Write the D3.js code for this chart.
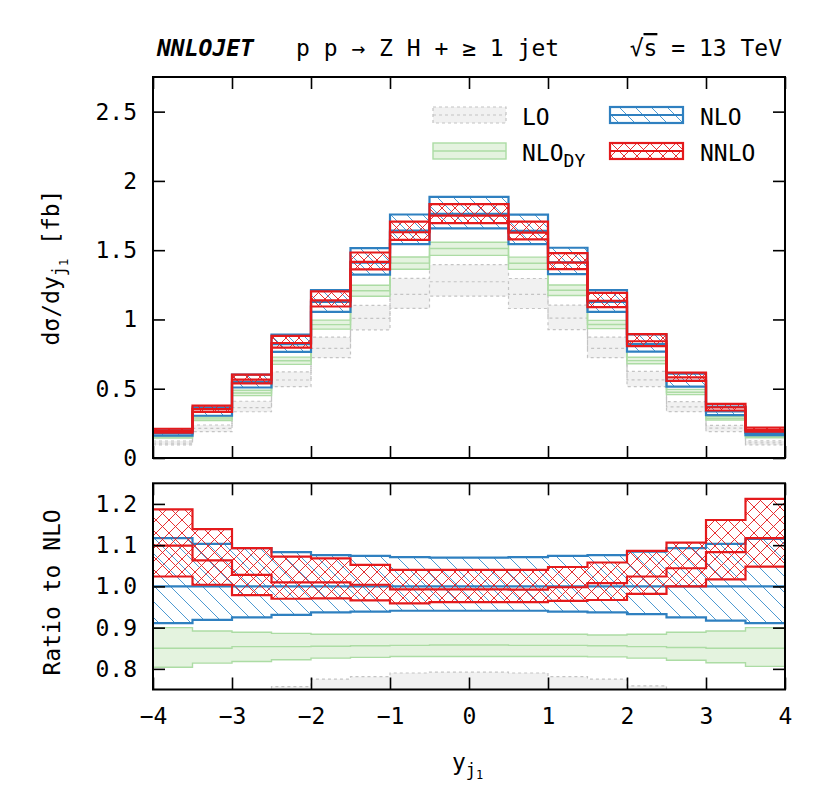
<!DOCTYPE html>
<html><head><meta charset="utf-8">
<script src="https://cdn.jsdelivr.net/npm/d3@7"></script>
<style>
body{margin:0;background:#fff}
text{font-family:"DejaVu Sans Mono",monospace;fill:#000}
</style>
</head><body>
<svg id="c" width="830" height="806"></svg>
<script>
// ---------------- data ----------------
const binEdges = [-4,-3.5,-3,-2.5,-2,-1.5,-1,-0.5,0,0.5,1,1.5,2,2.5,3,3.5,4];
// NLO central value per bin [fb]
const nloCentral = [0.178,0.332,0.550,0.822,1.126,1.410,1.641,1.762,1.762,1.640,1.413,1.126,0.823,0.557,0.337,0.181];
// ratios to NLO central
const loUp   = [0.690,0.717,0.745,0.757,0.775,0.781,0.790,0.792,0.792,0.790,0.781,0.775,0.759,0.730,0.700,0.680];
const loMid  = [0.607,0.645,0.662,0.685,0.703,0.715,0.720,0.722,0.722,0.720,0.715,0.703,0.685,0.662,0.640,0.600];
const loLow  = [0.530,0.572,0.607,0.626,0.643,0.656,0.658,0.663,0.663,0.658,0.656,0.643,0.626,0.600,0.565,0.520];
const dyUp   = [0.900,0.892,0.889,0.886,0.884,0.884,0.884,0.884,0.884,0.884,0.884,0.882,0.884,0.889,0.892,0.900];
const dyMid  = [0.850,0.850,0.854,0.854,0.855,0.856,0.857,0.858,0.858,0.857,0.857,0.856,0.854,0.852,0.850,0.850];
const dyLow  = [0.804,0.814,0.818,0.822,0.826,0.828,0.830,0.830,0.830,0.830,0.830,0.829,0.826,0.821,0.815,0.806];
const nloUp  = [1.117,1.103,1.093,1.083,1.076,1.074,1.071,1.070,1.070,1.071,1.074,1.076,1.084,1.093,1.103,1.115];
const nloMid = [1,1,1,1,1,1,1,1,1,1,1,1,1,1,1,1];
const nloLow = [0.911,0.919,0.925,0.931,0.937,0.939,0.941,0.941,0.941,0.941,0.939,0.937,0.933,0.925,0.917,0.911];
const nnloUp = [1.187,1.139,1.093,1.072,1.068,1.052,1.040,1.040,1.040,1.040,1.047,1.058,1.086,1.106,1.161,1.212];
const nnloMid= [1.099,1.063,1.028,1.010,1.010,1.004,0.993,0.993,0.993,0.992,0.998,1.008,1.024,1.044,1.083,1.117];
const nnloLow= [1.024,1.004,0.979,0.970,0.971,0.966,0.959,0.962,0.962,0.962,0.965,0.967,0.982,1.000,1.017,1.048];
const xTicks = [-4,-3,-2,-1,0,1,2,3,4];
const yTicksMain = [0,0.5,1,1.5,2,2.5];
const yTicksRatio = [0.8,0.9,1.0,1.1,1.2];
const legendLabels = ["LO","NLO","NLO","NNLO"];

// ---------------- layout ----------------
const svg = d3.select("#c");
const L = 153, R = 785;
const T1 = 77, B1 = 458, T2 = 483.3, B2 = 689.5;
const x = d3.scaleLinear().domain([-4,4]).range([L,R]);
const yMain = d3.scaleLinear().domain([0,2.75]).range([B1,T1]);
const yRat = d3.scaleLinear().domain([0.75,1.25]).range([B2,T2]);

const defs = svg.append("defs");
const pb = defs.append("pattern").attr("id","hBlue").attr("patternUnits","userSpaceOnUse")
  .attr("width",16).attr("height",16);
pb.append("path").attr("d","M0,0L16,16M-4,12L4,20M12,-4L20,4")
  .attr("stroke","#4d9ad2").attr("stroke-width",1).attr("fill","none");
const pr = defs.append("pattern").attr("id","hRed").attr("patternUnits","userSpaceOnUse")
  .attr("width",13).attr("height",13);
pr.append("path").attr("d","M0,0L13,13M13,0L0,13M-1,1L1,-1M12,14L14,12M-1,12L1,14M12,-1L14,1")
  .attr("stroke","#e41a1c").attr("stroke-width",0.9).attr("fill","none");
defs.append("clipPath").attr("id","cp1").append("rect").attr("x",L).attr("y",T1).attr("width",R-L).attr("height",B1-T1);
defs.append("clipPath").attr("id","cp2").append("rect").attr("x",L).attr("y",T2).attr("width",R-L).attr("height",B2-T2);

const series = [
  {up:loUp, mid:loMid, low:loLow, fill:"#f1f1f1", stroke:"#c4c4c4", dash:"3,3", w:1.2},
  {up:dyUp, mid:dyMid, low:dyLow, fill:"#e4f3df", stroke:"#acdca4", dash:null, w:1.4},
  {up:nloUp, mid:nloMid, low:nloLow, fill:"url(#hBlue)", stroke:"#2f80c0", dash:null, w:2.2},
  {up:nnloUp, mid:nnloMid, low:nnloLow, fill:"url(#hRed)", stroke:"#e41a1c", dash:null, w:2.2}
];

function pts(vals, scaleFac){
  return binEdges.map((e,i)=>[e, vals[Math.min(i,vals.length-1)]*scaleFac(Math.min(i,vals.length-1))]);
}

function drawPanel(g, y, absolute){
  const f = absolute ? (i=>nloCentral[i]) : (i=>1);
  const area = d3.area().x(d=>x(d[0])).y0(d=>y(d[1])).y1(d=>y(d[2])).curve(d3.curveStepAfter);
  const line = d3.line().x(d=>x(d[0])).y(d=>y(d[1])).curve(d3.curveStepAfter);
  series.forEach(s=>{
    const lo = pts(s.low,f), up = pts(s.up,f);
    const ad = lo.map((p,i)=>[p[0],p[1],up[i][1]]);
    g.append("path").attr("d",area(ad)).attr("fill",s.fill).attr("stroke","none");
    [s.up,s.mid,s.low].forEach(v=>{
      g.append("path").attr("d",line(pts(v,f))).attr("fill","none")
        .attr("stroke",s.stroke).attr("stroke-width",s.w)
        .attr("stroke-dasharray",s.dash).attr("stroke-linejoin","miter");
    });
  });
}

const g1 = svg.append("g").attr("clip-path","url(#cp1)");
drawPanel(g1, yMain, true);
const g2 = svg.append("g").attr("clip-path","url(#cp2)");
drawPanel(g2, yRat, false);

// ---------------- axes ----------------
function axes(top, bottom, y, yt, yfmt, xlabels){
  const tk = 12;
  const gb = svg.append("g").attr("transform",`translate(0,${bottom})`)
    .call(d3.axisBottom(x).tickValues(xTicks).tickSize(-tk).tickPadding(16)
      .tickFormat(xlabels ? d3.format("d") : ""));
  const gt = svg.append("g").attr("transform",`translate(0,${top})`)
    .call(d3.axisTop(x).tickValues(xTicks).tickSize(-tk).tickFormat(""));
  const gl = svg.append("g").attr("transform",`translate(${L},0)`)
    .call(d3.axisLeft(y).tickValues(yt).tickSize(-tk).tickPadding(16).tickFormat(yfmt));
  const gr = svg.append("g").attr("transform",`translate(${R},0)`)
    .call(d3.axisRight(y).tickValues(yt).tickSize(-tk).tickFormat(""));
  [gb,gt,gl,gr].forEach(g=>{
    g.select(".domain").remove();
    g.selectAll(".tick line").attr("stroke","#000").attr("stroke-width",1.6);
    g.selectAll("text").attr("font-size",23).attr("font-family","DejaVu Sans Mono").attr("fill","#000");
  });
  gb.selectAll("text").attr("dy","0.71em").attr("y",18);
  svg.append("rect").attr("x",L).attr("y",top).attr("width",R-L).attr("height",bottom-top)
    .attr("fill","none").attr("stroke","#000").attr("stroke-width",2);
}
axes(T1,B1,yMain,yTicksMain,d3.format(""),false);
axes(T2,B2,yRat,yTicksRatio,d3.format(".1f"),true);

// ---------------- texts ----------------
const fs = 23;
svg.append("text").attr("x",157).attr("y",56).attr("font-size",fs)
  .attr("font-weight","bold").attr("font-style","italic").text("NNLOJET");
svg.append("text").attr("x",296).attr("y",56).attr("font-size",fs).text("p p \u2192 Z H + \u2265 1 jet");
const rt = svg.append("text").attr("x",782).attr("y",56).attr("font-size",fs).attr("text-anchor","end");
rt.append("tspan").text("\u221A");
rt.append("tspan").attr("style","text-decoration:overline").text("s");
rt.append("tspan").text(" = 13 TeV");

// x axis label
const xl = svg.append("text").attr("x",452).attr("y",770).attr("font-size",fs);
xl.append("tspan").text("y");
xl.append("tspan").attr("font-size",17).attr("dy",6).text("j");
xl.append("tspan").attr("font-size",12).attr("dy",3).text("1");

// y axis labels
const yl = svg.append("text").attr("transform",`translate(59,${(T1+B1)/2}) rotate(-90)`)
  .attr("font-size",fs).attr("text-anchor","middle");
yl.append("tspan").text("d\u03C3/dy");
yl.append("tspan").attr("font-size",17).attr("dy",6).text("j");
yl.append("tspan").attr("font-size",12).attr("dy",3).text("1");
yl.append("tspan").attr("dy",-9).text(" [fb]");
svg.append("text").attr("transform",`translate(60,${(T2+B2)/2+6}) rotate(-90)`)
  .attr("font-size",fs).attr("text-anchor","middle").text("Ratio to NLO");

// ---------------- legend ----------------
const legPos = [[433,107,522,125],[610,107,700,125],[433,143,522,161],[610,143,700,161]];
const legSeries = [series[0],series[2],series[1],series[3]];
const legText = [legendLabels[0],legendLabels[1],legendLabels[2],legendLabels[3]];
legSeries.forEach((s,i)=>{
  const [bx,by,tx,ty] = legPos[i];
  const w = 73, h = 16;
  svg.append("rect").attr("x",bx).attr("y",by).attr("width",w).attr("height",h)
    .attr("fill",s.fill).attr("stroke",s.stroke).attr("stroke-width",s.w)
    .attr("stroke-dasharray",s.dash);
  svg.append("line").attr("x1",bx).attr("x2",bx+w).attr("y1",by+h/2).attr("y2",by+h/2)
    .attr("stroke",s.stroke).attr("stroke-width",s.w).attr("stroke-dasharray",s.dash);
  const t = svg.append("text").attr("x",tx).attr("y",ty).attr("font-size",fs).text(legText[i]);
  if(i===2) t.append("tspan").attr("font-size",18).attr("dy",6).text("DY");
});
</script>
</body></html>
